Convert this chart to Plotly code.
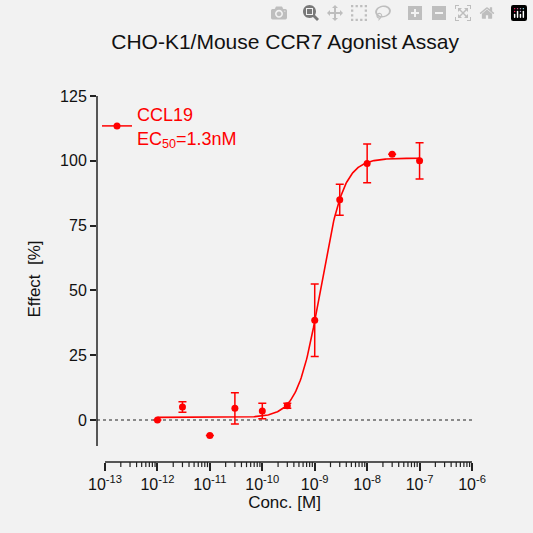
import numpy as np
import plotly.graph_objects as go

conc = [1e-12, 3e-12, 1e-11, 3e-11, 1e-10, 3e-10, 1e-9, 3e-9, 1e-8, 3e-8, 1e-7]
effect = [0, 5, -6, 4.5, 3.5, 5.5, 38.5, 85, 99, 102.5, 100]
err = [0, 2, 0, 6, 3, 1, 14, 6, 7.5, 0, 7]
fit_bottom, fit_top, fit_ec50, fit_hill = 1.0, 101.0, 1.3e-9, 2.0
xticks = [1e-13, 1e-12, 1e-11, 1e-10, 1e-9, 1e-8, 1e-7, 1e-6]
xlabels = ["10<sup>%d</sup>" % e for e in range(-13, -5)]
yticks = [0, 25, 50, 75, 100, 125]

RED = "#ff0000"
xc = np.logspace(-12, -7, 300)
yc = fit_bottom + (fit_top - fit_bottom) / (1 + (fit_ec50 / xc) ** fit_hill)

fig = go.Figure()
fig.add_trace(go.Scatter(x=xc, y=yc, mode="lines", line=dict(color=RED, width=1.6),
                         showlegend=False, hoverinfo="skip"))
fig.add_trace(go.Scatter(x=conc, y=effect, mode="markers", marker=dict(color=RED, size=7),
                         error_y=dict(type="data", array=err, color=RED, thickness=1.5, width=4),
                         showlegend=False))
fig.add_trace(go.Scatter(x=[None], y=[None], mode="lines+markers",
                         line=dict(color=RED, width=1.5), marker=dict(color=RED, size=7),
                         name="CCL19<br>EC<sub>50</sub>=1.3nM"))

fig.add_shape(type="line", xref="paper", yref="y", x0=0, x1=0, y0=-10, y1=125,
              line=dict(color="#222", width=1.5))
fig.add_shape(type="line", xref="x", yref="paper", x0=1e-13, x1=1e-6, y0=0, y1=0,
              line=dict(color="#222", width=1.5))
fig.add_shape(type="line", xref="paper", yref="y", x0=0, x1=1, y0=0, y1=0,
              line=dict(color="#222", width=1, dash="dot"), layer="below")
for d in range(-13, -6):
    for m in range(2, 10):
        xm = m * 10.0 ** d
        fig.add_shape(type="line", xref="x", yref="paper", x0=xm, x1=xm, y0=0, y1=-0.014,
                      line=dict(color="#222", width=1.2))

fig.update_layout(
    width=533, height=533, paper_bgcolor="#f2f2f2", plot_bgcolor="#f2f2f2",
    margin=dict(l=97, r=61, t=96, b=71),
    font=dict(family="Liberation Sans, Arial", size=16, color="#111"),
    title=dict(text="CHO-K1/Mouse CCR7 Agonist Assay", x=0.535, xanchor="center", y=0.935,
               font=dict(size=21, color="#111")),
    legend=dict(x=0.0, y=1.0, xanchor="left", yanchor="top", bgcolor="rgba(0,0,0,0)",
                font=dict(color=RED, size=18)),
    xaxis=dict(type="log", range=[-13.153, -6], tickvals=xticks, ticktext=xlabels,
               ticks="outside", ticklen=8, tickwidth=1.5, tickcolor="#222", showgrid=False,
               zeroline=False, showline=False, tickfont=dict(size=16),
               title=dict(text="Conc. [M]", standoff=2, font=dict(size=17))),
    yaxis=dict(range=[-16.2, 125], tickvals=yticks, ticks="outside", ticklen=6, tickwidth=1.5,
               tickcolor="#222", showgrid=False, zeroline=False, showline=False,
               tickfont=dict(size=16),
               title=dict(text="Effect  [%]", font=dict(size=17))),
)
fig.write_html("out.html", post_script="document.body.style.margin='0';document.body.style.background='#f2f2f2';")
